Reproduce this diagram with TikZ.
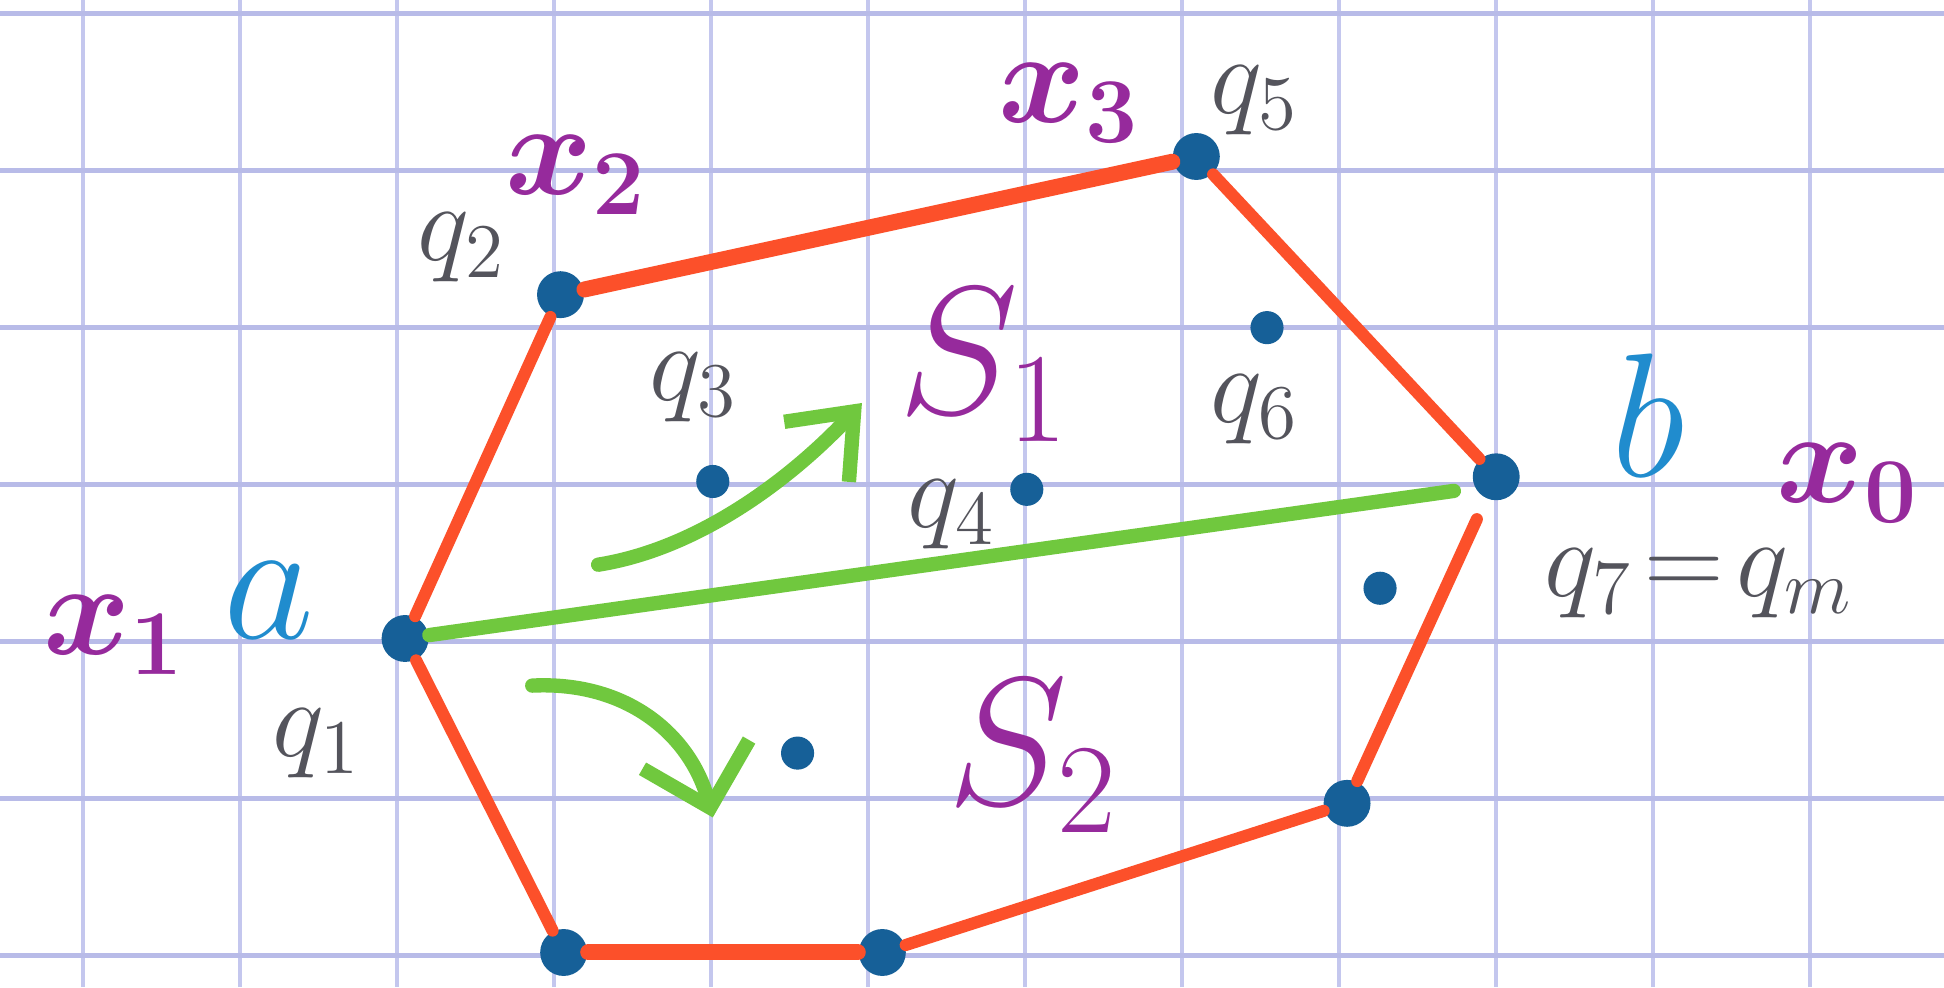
\RequirePackage{fix-cm}
\documentclass[tikz,border=0pt]{standalone}
\usetikzlibrary{positioning,calc,arrows.meta}
\definecolor{gridv}{RGB}{196,199,238}
\definecolor{gridh}{RGB}{184,187,232}
\definecolor{hullred}{RGB}{252,80,42}
\definecolor{chordgreen}{RGB}{112,200,62}
\definecolor{dotblue}{RGB}{22,96,152}
\definecolor{penblue}{RGB}{32,140,206}
\definecolor{penpurple}{RGB}{150,42,156}
\definecolor{pengray}{RGB}{84,84,92}

\begin{document}
\begin{tikzpicture}[x=1cm, y=1cm,
  v/.style={circle, fill=dotblue, inner sep=0pt, minimum size=8.5pt},
  w/.style={circle, fill=dotblue, inner sep=0pt, minimum size=6pt},
  hull/.style={draw=hullred, line width=2.2pt, line cap=round},
  chord/.style={draw=chordgreen, line width=2.6pt, line cap=round},
  glab/.style={text=pengray, font=\fontsize{20}{22}\selectfont},
  plab/.style={text=penpurple, font=\fontsize{24}{26}\selectfont\boldmath},
  blab/.style={text=penblue, font=\fontsize{32}{34}\selectfont},
  slab/.style={text=penpurple, font=\fontsize{33}{35}\selectfont}]
\useasboundingbox (0,0) rectangle (12.382,6.287);
\fill[white] (0,0) rectangle (12.382,6.287);
% squared paper
\foreach \i in {0,...,11} { \draw[gridv, line width=0.8pt] (0.53+\i,0) -- (0.53+\i,6.287); }
\foreach \j in {0,...,6} { \draw[gridh, line width=1pt] (0,0.2+\j) -- (12.382,0.2+\j); }
% points
\node[v] (q1) at (2.58,2.22) {}; \node[v] (q2) at (3.57,4.41) {};
\node[v] (q5) at (7.62,5.29) {}; \node[v] (q7) at (9.53,3.25) {};
\node[v] (r3) at (8.58,1.17) {}; \node[v] (r2) at (5.62,0.22) {};
\node[v] (r1) at (3.59,0.22) {};
\node[w] (q3) at (4.54,3.22) {}; \node[w] (q4) at (6.54,3.17) {};
\node[w] (q6) at (8.07,4.20) {}; \node[w] (s1) at (8.79,2.54) {};
\node[w] (s2) at (5.08,1.49) {};
% hull
\foreach \a/\b in {q1/q2, q5/q7, r3/r2, r1/q1} { \draw[hull] (\a) -- (\b); }
\draw[hull, line width=2.9pt] (q2) -- (q5); \draw[hull, line width=2.9pt] (r2) -- (r1);
\draw[hull, shorten <=4pt] (q7) -- (r3);
% segment ab and the two sides
\coordinate (e1) at ($(q7)+(-0.27,-0.09)$);
\draw[chord] (q1) -- (e1);
\coordinate (t1) at (3.81,2.69); \coordinate (h1) at (5.49,3.72);
\draw[chord, -{Straight Barb[length=10pt,width=16pt]}] (t1) .. controls (4.5,2.8) and (5.1,3.3) .. (h1);
\coordinate (t2) at (3.39,1.92); \coordinate (h2) at (4.54,1.08);
\draw[chord, -{Straight Barb[length=10pt,width=20pt]}] (t2) .. controls (4.0,1.95) and (4.4,1.6) .. (h2);
% labels
\node[glab] (lq1) at (2.02,1.55) {$q_1$}; \node[glab] (lq2) at (2.94,4.71) {$q_2$};
\node[glab] (lq3) at (4.42,3.82) {$q_3$}; \node[glab] (lq4) at (6.06,3.01) {$q_4$};
\node[glab] (lq5) at (7.99,5.65) {$q_5$}; \node[glab] (lq6) at (7.99,3.68) {$q_6$};
\node[glab] (lq7) at (10.82,2.57) {$q_7\!=\!q_m$};
\node[plab] (lx1) at (0.73,2.24) {$x_1$}; \node[plab] (lx2) at (3.67,5.17) {$x_2$};
\node[plab] (lx3) at (6.81,5.63) {$x_3$}; \node[plab] (lx0) at (11.77,3.21) {$x_0$};
\node[blab] (la) at (1.71,2.46) {$a$}; \node[blab] (lb) at (10.50,3.64) {$b$};
\node[slab] (lS1) at (6.27,3.96) {$S_1$}; \node[slab] (lS2) at (6.58,1.47) {$S_2$};
\end{tikzpicture}
\end{document}
